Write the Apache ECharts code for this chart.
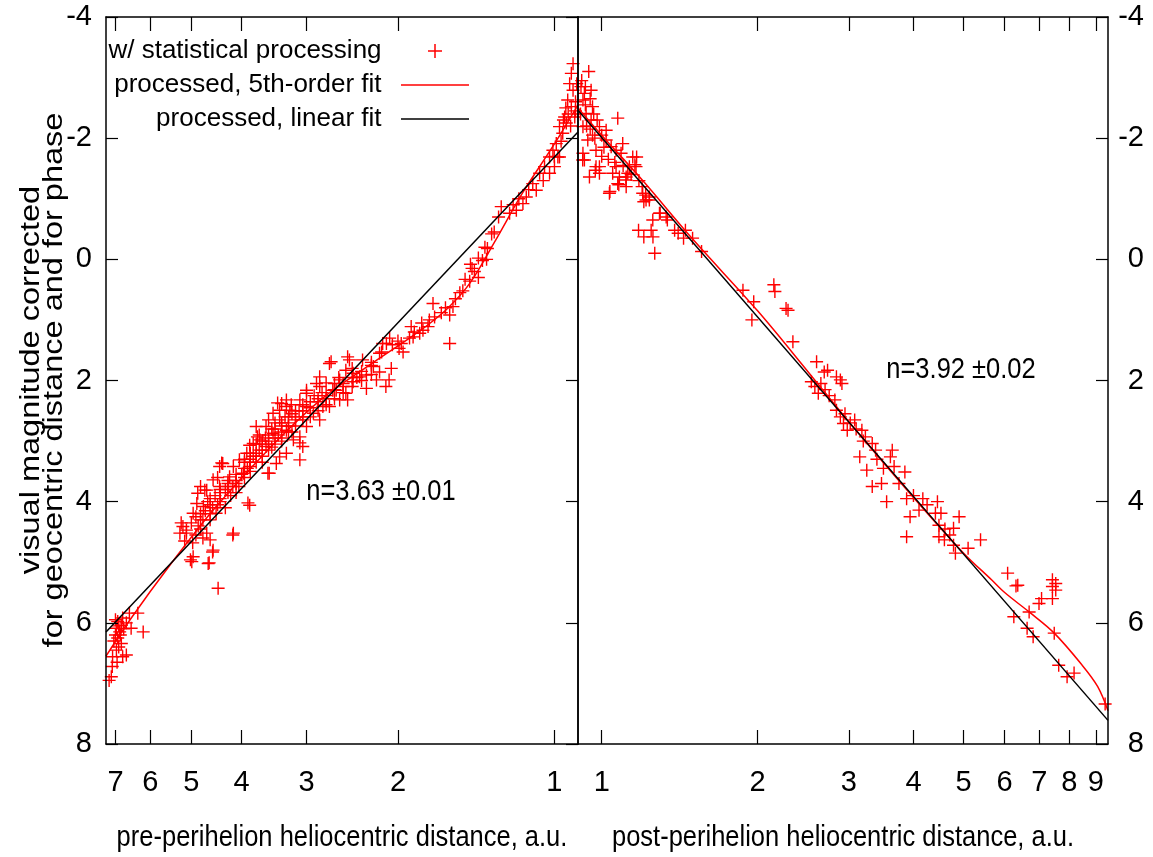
<!DOCTYPE html>
<html>
<head>
<meta charset="utf-8">
<script src="https://cdn.jsdelivr.net/npm/echarts@6/dist/echarts.min.js"></script>
<style>
html,body{margin:0;padding:0;background:#fff;}
#chart{width:1153px;height:857px;}
</style>
</head>
<body>
<div id="chart"></div>
<script>
// ---------- data (heliocentric distance r [a.u.], magnitude m) ----------
const preTicks = [1, 2, 3, 4, 5, 6, 7];
const postTicks = [1, 2, 3, 4, 5, 6, 7, 8, 9];

const preScatter = [
  [7.13,6.89],[7.10,6.72],[7.09,6.56],[6.97,6.45],[6.78,6.56],[6.67,6.53],[6.82,6.34],[6.93,6.25],[7.00,6.20],
  [6.87,6.15],[6.97,6.09],[6.82,6.04],[6.93,5.98],[6.78,5.92],[6.67,6.00],[6.53,6.09],[6.58,5.84],[6.34,5.84],
  [6.19,6.15],[7.05,6.30],[6.90,6.40],[7.00,5.95],[6.85,6.20],[6.95,6.65],[7.20,6.95],[6.75,6.10],[6.90,6.05],
  [5.26,4.52],[5.19,4.41],[5.11,4.52],[5.23,4.35],[5.11,4.47],[4.96,4.19],[4.88,4.03],[4.74,4.08],[4.80,3.75],
  [4.67,3.81],[4.54,3.64],[4.41,3.75],[4.35,3.37],[4.22,3.59],[4.15,3.42],[4.04,3.31],[3.97,3.53],[4.60,4.30],
  [4.48,4.19],[4.67,4.52],[4.60,4.63],[4.54,4.80],[4.64,5.02],[4.44,5.43],[4.15,4.52],[3.86,4.06],[5.02,4.96],
  [4.96,4.91],[4.97,4.68],[4.99,4.99],[4.55,4.83],[4.16,4.55],[4.86,3.86],[4.71,3.81],[4.41,3.42],[4.37,3.36],
  [4.62,5.01],[5.00,4.35],[4.90,4.25],[4.85,4.40],[4.75,4.30],[4.70,4.15],[4.65,4.00],[4.60,3.95],[4.50,3.90],
  [4.45,4.05],[4.40,3.95],[4.30,3.80],[4.25,3.70],[4.20,3.90],[4.10,3.65],[4.05,3.75],[4.00,3.55],[4.30,4.10],
  [4.45,3.60],[4.55,4.10],[4.75,4.60],[5.15,4.65],[4.90,4.55],
  [4.80,4.30],[4.80,4.45],[4.80,4.20],[4.60,4.05],[4.60,4.20],[4.40,3.85],[4.40,4.00],[4.40,3.80],[4.25,3.75],
  [4.25,3.65],[4.25,3.85],[4.10,3.55],[4.10,3.70],[4.10,3.85],[3.95,3.45],[3.95,3.60],[3.95,3.30],[3.85,3.35],
  [3.85,3.50],[3.85,3.20],[3.75,3.25],[3.75,3.35],[3.75,3.05],[3.65,3.15],[3.65,3.00],[3.65,3.25],[3.55,3.05],
  [3.55,2.90],[3.55,3.15],[3.45,2.95],[3.45,2.80],[3.45,3.05],[3.35,2.85],[3.35,2.70],[3.35,2.95],[3.25,2.75],
  [3.25,2.60],[3.25,2.85],[3.15,2.60],[3.15,2.75],[3.15,2.50],[3.05,2.50],[3.05,2.65],[3.05,2.40],[2.95,2.45],
  [2.95,2.60],[2.85,2.35],[2.85,2.50],[2.75,2.25],[2.75,2.40],[2.65,2.15],[2.65,2.30],[2.55,2.05],[2.55,2.20],
  [2.45,1.95],[2.45,2.10],[2.35,1.85],[2.35,2.00],[2.25,1.75],[2.25,1.90],
  [3.91,3.20],[3.86,3.42],[3.80,3.04],[3.75,2.76],[3.75,3.20],[3.69,2.98],[3.59,2.76],[3.59,3.09],[3.54,3.53],
  [3.48,2.54],[3.48,2.87],[3.43,3.37],[3.38,2.65],[3.35,2.38],[3.28,2.43],[3.28,2.82],[3.28,3.20],[3.23,2.49],
  [3.18,2.98],[3.09,2.32],[3.09,2.93],[3.09,3.31],[3.05,3.09],[3.00,2.21],[3.00,2.76],[3.73,2.93],[3.86,3.07],
  [3.89,4.02],[3.56,3.53],[4.16,3.75],[3.38,3.26],[3.41,2.37],[3.38,2.49],[3.28,2.32],[3.21,2.40],[3.09,3.03],
  [3.00,2.43],[3.00,2.16],[3.95,3.35],[3.90,3.45],[3.85,3.30],[3.80,3.25],[3.70,3.15],[3.65,3.05],[3.60,2.95],
  [3.55,3.00],[3.50,2.80],[3.45,2.70],[3.40,2.90],[3.35,2.75],[3.30,2.60],[3.25,2.70],[3.20,2.55],[3.15,2.65],
  [3.10,2.50],[3.05,2.60],[3.65,3.35],[3.50,3.10],[3.35,3.00],[3.20,2.85],[3.70,2.90],[3.55,2.65],
  [2.91,2.54],[2.87,2.05],[2.83,1.94],[2.83,2.65],[2.79,2.43],[2.71,1.72],[2.71,2.43],[2.67,2.16],[2.59,1.99],
  [2.59,2.32],[2.52,1.83],[2.52,2.21],[2.50,2.32],[2.48,1.66],[2.44,2.02],[2.37,1.94],[2.34,1.66],[2.30,2.13],
  [2.30,1.91],[2.23,1.77],[2.20,1.99],[2.17,1.86],[2.15,1.53],[2.14,1.39],[2.11,2.10],[2.105,1.39],[2.08,1.99],
  [2.075,1.30],[2.06,1.80],[1.99,1.47],[1.971,1.39],[1.955,1.53],[2.83,2.10],[2.75,2.04],[2.69,1.69],[2.50,1.61],
  [2.63,2.16],[2.44,1.88],[2.17,1.55],[2.05,1.41],[1.87,1.28],[2.95,2.35],[2.90,2.25],[2.85,2.30],[2.80,2.20],
  [2.75,2.30],[2.65,2.05],[2.60,1.95],[2.55,2.10],[2.45,1.80],[2.40,1.95],[2.25,1.70],[2.00,1.35],
  [1.886,1.11],[1.86,1.20],[1.816,1.22],[1.79,1.17],[1.75,1.11],[1.74,1.00],[1.712,0.73],[1.59,0.92],[1.567,0.78],
  [1.59,1.39],[1.90,1.30],[1.80,1.05],[1.70,0.95],[1.65,0.88],[1.62,0.80],[1.55,0.65],[1.52,0.55],
  [1.50,0.52],[1.485,0.33],[1.455,0.36],[1.44,0.15],[1.425,0.20],[1.40,-0.02],[1.375,0.02],[1.36,-0.20],[1.345,-0.18],
  [1.32,-0.42],[1.305,-0.45],[1.28,-0.70],[1.265,-0.87],[1.45,0.08],[1.35,0.00],[1.40,0.30],
  [1.219,-0.76],[1.183,-0.81],[1.149,-0.92],[1.132,-1.03],[1.10,-1.25],[1.083,-1.14],[1.067,-1.42],[1.044,-1.53],
  [1.021,-1.42],[1.021,-1.69],[1.006,-1.80],[0.999,-1.53],[0.991,-1.91],[0.984,-1.69],[0.977,-1.69],[0.977,-2.19],
  [0.963,-2.08],[0.955,-2.35],[0.948,-2.25],[0.942,-2.63],[0.934,-2.90],[0.927,-3.07],[0.927,-2.52],[0.92,-3.23],
  [0.92,-2.79],[0.913,-2.35],[1.20,-0.90],[1.17,-1.00],[1.12,-1.15],[1.05,-1.30],[1.00,-1.70],[0.97,-1.95],
  [0.96,-2.30],[0.95,-2.50],[0.94,-2.40],[0.93,-2.20],[0.91,-2.60],[0.905,-2.90],[0.91,-2.45]
];

const postScatter = [
  [0.944,-3.10],[0.926,-2.74],[0.92,-2.63],[0.96,-2.52],[0.933,-2.41],[0.954,-2.30],[0.99,-2.19],[1.02,-2.13],
  [1.074,-2.33],[0.92,-2.19],[0.94,-1.97],[0.92,-1.75],[0.926,-1.64],[0.975,-1.80],[0.99,-1.53],[1.02,-1.97],
  [1.043,-1.86],[1.066,-1.80],[1.098,-1.91],[1.09,-1.75],[1.148,-1.69],[1.165,-1.53],[1.131,-1.53],[1.035,-1.09],
  [1.074,-1.25],[1.115,-1.20],[1.066,-1.53],[1.05,-1.42],[1.082,-1.36],[1.115,-1.36],[1.20,-1.09],[1.218,-0.98],
  [1.236,-1.03],[1.293,-0.76],[1.332,-0.70],[1.255,-0.65],[0.975,-1.53],[0.99,-1.42],[0.947,-1.36],[0.954,-2.79],
  [0.912,-2.85],[0.93,-2.55],[0.95,-2.65],[0.965,-2.40],[0.98,-2.30],[1.00,-2.05],[0.91,-2.40],[0.935,-2.20],
  [0.96,-2.05],[1.01,-1.85],[0.915,-2.95],[0.93,-2.85],[0.95,-2.15],[0.97,-2.00],[1.00,-1.70],[1.03,-1.65],
  [1.06,-1.60],[1.10,-1.55],[1.14,-1.40],[1.18,-1.30],
  [1.037,-1.12],[1.079,-1.23],[1.114,-1.31],[1.123,-1.42],[1.159,-1.56],[1.168,-1.69],[0.972,-1.47],[0.919,-1.64],
  [1.197,-1.20],[1.216,-1.06],[1.236,-0.98],[1.206,-0.95],[1.297,-0.76],[1.339,-0.65],[1.178,-0.48],[1.206,-0.37],
  [1.246,-0.48],[1.256,-0.37],[1.266,-0.10],[1.383,-0.48],[1.405,-0.43],[1.451,-0.48],[1.439,-0.35],[1.498,-0.35],
  [1.559,-0.13],[1.874,0.51],[1.966,0.70],[1.95,1.00],[2.15,0.42],[2.16,0.53],[2.27,0.81],[2.29,0.84],[2.34,1.36],
  [2.60,1.69],[2.54,2.02],[2.69,1.86],[2.73,1.83],[2.84,1.94],[2.91,2.05],[2.89,1.99],[2.58,2.10],[2.62,2.21],
  [2.82,2.32],[2.84,2.49],[2.89,2.60],[2.93,2.71],[2.98,2.82],[3.08,2.65],[3.18,2.82],[3.23,2.93],[3.15,3.26],
  [3.25,3.48],[3.33,3.04],[3.38,3.15],[3.33,3.75],[3.47,3.70],[3.55,4.00],[3.61,3.26],[3.64,3.15],[3.67,3.42],
  [3.85,3.51],[3.88,3.95],[3.94,4.25],[4.10,4.14],[4.17,3.95],[4.45,4.00],[4.41,4.19],[4.52,4.19],[4.48,4.39],
  [4.48,4.58],[4.59,4.63],[4.78,4.72],[4.82,4.85],[4.78,4.44],[4.90,4.25],[3.88,4.58],[5.10,4.77],[5.39,4.63],
  [6.08,5.18],[6.36,5.38],[7.53,5.35],[7.53,5.46],[7.07,5.60],
  [2.65,2.05],[2.70,2.15],[2.75,2.25],[2.95,2.55],[3.02,2.70],[3.10,2.80],[3.20,3.00],[3.40,3.30],[3.50,3.45],
  [3.75,3.70],[4.00,3.90],[4.25,4.05],[4.60,4.45],[4.70,4.55],
  [6.31,5.39],[6.99,5.68],[7.42,5.40],[7.42,5.60],[7.42,5.29],[6.69,5.82],[6.25,5.90],[6.63,6.09],[6.81,6.23],
  [7.48,6.17],[7.63,6.70],[7.92,6.89],[8.17,6.83],[9.38,7.34]
];

// 5th-order fit curves
const preFitR = [7.3, 6.5, 5.5, 4.5, 3.5, 2.8, 2.3, 1.9, 1.75, 1.6, 1.45, 1.3, 1.15, 1.0, 0.9];
const preFitM = [6.55, 5.9, 5.05, 4.1, 3.08, 2.3, 1.78, 1.3, 1.08, 0.8, 0.38, -0.3, -1.1, -1.9, -2.55];
const postFitR = [0.9, 1.0, 1.2, 1.5, 2.0, 2.5, 3.0, 4.0, 5.0, 5.66, 6.0, 6.69, 7.48, 8.47, 9.07, 9.5];
const postFitM = [-2.5, -2.05, -1.3, -0.33, 0.85, 1.85, 2.68, 3.93, 4.85, 5.29, 5.5, 5.82, 6.17, 6.7, 7.05, 7.45];

// linear fits (end points)
const preLinR = [7.3, 0.9];
const preLinM = [6.15, -2.1];
const postLinR = [0.9, 9.5];
const postLinM = [-2.46, 7.61];

const legendNames = ['w/ statistical processing', 'processed, 5th-order fit', 'processed, linear fit'];
const yTitle = ['visual magnitude corrected', 'for geocentric distance and for phase'];
const xTitles = ['pre-perihelion heliocentric distance, a.u.', 'post-perihelion heliocentric distance, a.u.'];
const notes = ['n=3.63 \u00b10.01', 'n=3.92 \u00b10.02'];

// ---------- chart ----------
const zip = (a, b) => a.map((v, i) => [v, b[i]]);
const FONT = "'Liberation Sans', Arial, sans-serif";
const PLUS = 'path://M-0.7,-6.5H0.7V-0.7H6.5V0.7H0.7V6.5H-0.7V0.7H-6.5V-0.7H-0.7Z';
const LINEICON = 'path://M0,0H68V1.5H0Z';
const black = '#000';
const red = '#ff0000';
const axisLine = { show: true, onZero: false, lineStyle: { color: black, width: 1.5 } };

function xAxisDef(grid, pos, min, max, inverse, ticks, withLabels) {
  return {
    type: 'log', logBase: 10, gridIndex: grid, position: pos, min: min, max: max, inverse: inverse,
    axisLine: axisLine,
    axisTick: { show: true, inside: true, length: 14, customValues: ticks, lineStyle: { color: black, width: 1.2 } },
    axisLabel: { show: withLabels, customValues: ticks, margin: 24, color: black, fontSize: 29, fontFamily: FONT,
                 formatter: v => String(Math.round(v)) },
    splitLine: { show: false }, minorTick: { show: false }
  };
}
function yAxisDef(grid, pos, ticks, labels, extra) {
  return Object.assign({
    type: 'value', gridIndex: grid, position: pos, min: -4, max: 8, interval: 2, inverse: true,
    axisLine: axisLine, z: 5,
    axisTick: { show: ticks, inside: true, length: 12, lineStyle: { color: black, width: 1.2 } },
    axisLabel: { show: labels, color: black, fontSize: 29, fontFamily: FONT, margin: 14 },
    splitLine: { show: false }
  }, extra || {});
}
function textEl(x, y, str, size, opts) {
  return Object.assign({
    type: 'text', x: x, y: y, silent: true,
    style: { text: str, fill: black, fontSize: size, fontFamily: FONT,
             align: 'center', verticalAlign: 'middle', textAlign: 'center', textVerticalAlign: 'middle' }
  }, opts || {});
}

const chart = echarts.init(document.getElementById('chart'), null, { renderer: 'canvas' });
chart.setOption({
  animation: false,
  backgroundColor: '#fff',
  grid: [
    { left: 106, top: 17, width: 472, height: 727 },
    { left: 578, top: 17, width: 530, height: 727 }
  ],
  xAxis: [
    xAxisDef(0, 'bottom', 0.9, 7.3, true, preTicks, true),
    xAxisDef(0, 'top', 0.9, 7.3, true, preTicks, false),
    xAxisDef(1, 'bottom', 0.9, 9.5, false, postTicks, true),
    xAxisDef(1, 'top', 0.9, 9.5, false, postTicks, false)
  ],
  yAxis: [
    yAxisDef(0, 'left', true, true),
    yAxisDef(0, 'right', true, false),
    yAxisDef(1, 'right', true, true, { axisLabel: { show: true, color: black, fontSize: 29, fontFamily: FONT, margin: 36, align: 'right' } }),
    yAxisDef(1, 'left', false, false)
  ],
  legend: {
    show: true, orient: 'vertical', align: 'right', right: 684, top: 38, padding: 0,
    itemWidth: 68, itemHeight: 14, itemGap: 8, selectedMode: false,
    textStyle: { color: black, fontSize: 26, fontFamily: FONT },
    formatter: n => n + '  ',
    data: [
      { name: legendNames[0], icon: PLUS },
      { name: legendNames[1], icon: LINEICON },
      { name: legendNames[2], icon: LINEICON }
    ]
  },
  graphic: [
    textEl(31, 380, yTitle[0], 32.5, { rotation: Math.PI / 2, scaleY: 0.85 }),
    textEl(54, 380, yTitle[1], 32.5, { rotation: Math.PI / 2, scaleY: 0.85 }),
    textEl(342, 838, xTitles[0], 30, { scaleX: 0.85 }),
    textEl(843, 838, xTitles[1], 30, { scaleX: 0.85 }),
    textEl(381, 491.5, notes[0], 30, { scaleX: 0.85 }),
    textEl(961, 369.5, notes[1], 30, { scaleX: 0.85 })
  ],
  series: [
    { type: 'scatter', name: legendNames[0], xAxisIndex: 0, yAxisIndex: 0, data: preScatter,
      symbol: PLUS, symbolSize: 13, itemStyle: { color: red, opacity: 1 }, z: 2 },
    { type: 'scatter', name: legendNames[0], xAxisIndex: 2, yAxisIndex: 2, data: postScatter,
      symbol: PLUS, symbolSize: 13, itemStyle: { color: red, opacity: 1 }, z: 2 },
    { type: 'line', name: legendNames[1], xAxisIndex: 0, yAxisIndex: 0, data: zip(preFitR, preFitM),
      smooth: 0.35, symbol: 'none', lineStyle: { color: red, width: 1.5 }, itemStyle: { color: red }, z: 3 },
    { type: 'line', name: legendNames[1], xAxisIndex: 2, yAxisIndex: 2, data: zip(postFitR, postFitM),
      smooth: 0.35, symbol: 'none', lineStyle: { color: red, width: 1.5 }, itemStyle: { color: red }, z: 3 },
    { type: 'line', name: legendNames[2], xAxisIndex: 0, yAxisIndex: 0, data: zip(preLinR, preLinM),
      symbol: 'none', lineStyle: { color: black, width: 1.5 }, itemStyle: { color: black }, z: 4 },
    { type: 'line', name: legendNames[2], xAxisIndex: 2, yAxisIndex: 2, data: zip(postLinR, postLinM),
      symbol: 'none', lineStyle: { color: black, width: 1.5 }, itemStyle: { color: black }, z: 4 }
  ]
});
</script>
</body>
</html>
